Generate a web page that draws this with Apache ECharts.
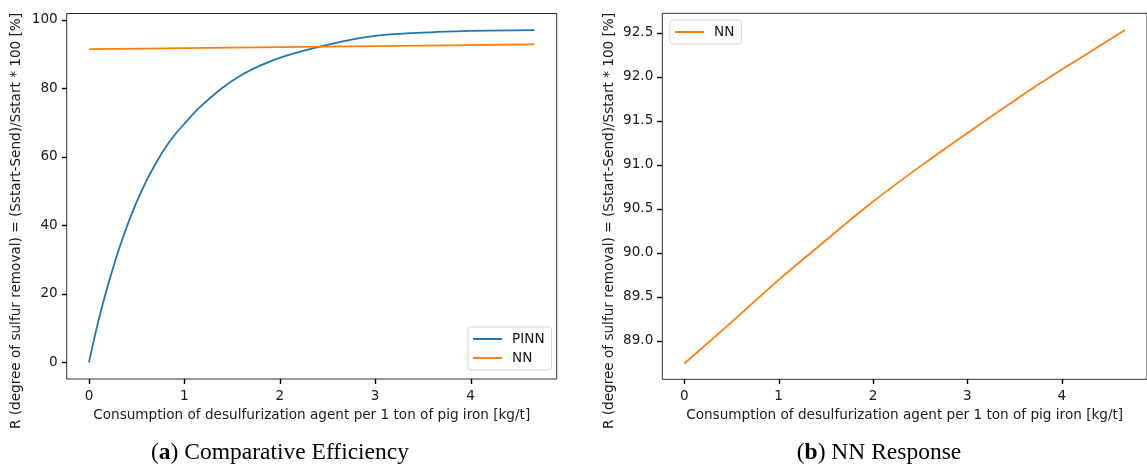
<!DOCTYPE html>
<html>
<head>
<meta charset="utf-8">
<script src="https://cdn.jsdelivr.net/npm/echarts@6/dist/echarts.min.js"></script>
<style>
  html, body { margin: 0; padding: 0; background: #fff; }
  #chart { width: 1147px; height: 468px; }
</style>
</head>
<body>
<div id="chart"></div>
<script>
// values
const pinnX = [0, 0.05, 0.1, 0.15, 0.2, 0.3, 0.4, 0.5, 0.6, 0.7, 0.8, 0.9, 1.0, 1.1, 1.2, 1.4, 1.6, 1.8, 2.0, 2.25, 2.5, 2.75, 3.0, 3.25, 3.5, 4.0, 4.67]
const pinnY = [0, 6.3, 12.2, 17.6, 22.6, 31.8, 39.8, 46.8, 52.8, 58.0, 62.6, 66.4, 69.6, 72.7, 75.4, 80.1, 83.8, 86.6, 88.8, 90.9, 92.6, 94.1, 95.2, 95.8, 96.2, 96.7, 96.9]
const nnLeftX = [0, 1, 2, 3, 4, 4.67]
const nnLeftY = [91.35, 91.65, 91.95, 92.25, 92.55, 92.75]
const nnX = [0, 0.5, 1, 1.5, 2, 2.5, 3, 3.5, 4, 4.67]
const nnY = [88.74, 89.21, 89.69, 90.14, 90.58, 90.98, 91.36, 91.73, 92.08, 92.53]

const xTicks = [0, 1, 2, 3, 4]
const yTicksLeft = [0, 20, 40, 60, 80, 100]
const yTicksRight = [89.0, 89.5, 90.0, 90.5, 91.0, 91.5, 92.0, 92.5]

const X_LABEL = 'Consumption of desulfurization agent per 1 ton of pig iron [kg/t]'
const Y_LABEL = 'R (degree of sulfur removal) = (Sstart-Send)/Sstart * 100 [%]'

const BLUE = '#1f77b4'
const ORANGE = '#ff7f0e'
const INK = '#1a1a1a'
const FONT = '"DejaVu Sans", sans-serif'
const FS = 13.6
const TICK = 5

const X_MIN = -0.2335, X_MAX = 4.9035
const Y_LEFT = [-4.85, 101.75]
const Y_RIGHT = [88.56, 92.72]

const zip = (xs, ys) => xs.map((x, i) => [x, ys[i]])

function xAxis(gridIndex) {
  return {
    type: 'value', gridIndex, min: X_MIN, max: X_MAX,
    name: X_LABEL, nameLocation: 'middle', nameGap: 29,
    nameTextStyle: { color: INK, fontSize: FS, fontFamily: FONT },
    axisLine: { show: false, onZero: false },
    axisTick: { show: false },
    axisLabel: { customValues: xTicks, color: INK, fontSize: FS, fontFamily: FONT, margin: 10 },
    splitLine: { show: false },
  }
}

function yAxis(gridIndex, ext, ticks, fmt) {
  return {
    type: 'value', gridIndex, min: ext[0], max: ext[1],
    axisLine: { show: false, onZero: false },
    axisTick: { show: false },
    axisLabel: { customValues: ticks, color: INK, fontSize: FS, fontFamily: FONT, margin: 9, formatter: fmt },
    splitLine: { show: false },
  }
}

const legendBox = {
  orient: 'vertical', icon: 'rect', itemWidth: 29, itemHeight: 2, itemGap: 5,
  padding: [5, 7, 5, 5],
  backgroundColor: '#fff', borderColor: '#d5d5d5', borderWidth: 1, borderRadius: 3,
  textStyle: { color: INK, fontSize: FS, fontFamily: FONT, padding: [0, 0, 0, 5] },
}

const chart = echarts.init(document.getElementById('chart'), null, { renderer: 'canvas' })

chart.setOption({
  animation: false,
  backgroundColor: '#fff',
  grid: [
    { left: 66.7, top: 13.5, width: 490, height: 365.5, show: true, borderColor: INK, borderWidth: 0.9, backgroundColor: 'transparent' },
    { left: 662.3, top: 13.3, width: 492.5, height: 366, show: true, borderColor: INK, borderWidth: 0.9, backgroundColor: 'transparent' },
  ],
  xAxis: [xAxis(0), xAxis(1)],
  yAxis: [
    yAxis(0, Y_LEFT, yTicksLeft, (v) => String(Math.round(v))),
    yAxis(1, Y_RIGHT, yTicksRight, (v) => v.toFixed(1)),
  ],
  legend: [
    { ...legendBox, left: 468, top: 327, data: ['PINN', 'NN'] },
    { ...legendBox, left: 670, top: 20, data: ['NN'] },
  ],
  series: [
    {
      name: 'PINN', type: 'line', xAxisIndex: 0, yAxisIndex: 0,
      data: zip(pinnX, pinnY), symbol: 'none', smooth: 0.3,
      lineStyle: { color: BLUE, width: 1.8 }, itemStyle: { color: BLUE },
    },
    {
      name: 'NN', type: 'line', xAxisIndex: 0, yAxisIndex: 0,
      data: zip(nnLeftX, nnLeftY), symbol: 'none', smooth: 0.3,
      lineStyle: { color: ORANGE, width: 1.8 }, itemStyle: { color: ORANGE },
    },
    {
      name: 'NN', type: 'line', xAxisIndex: 1, yAxisIndex: 1,
      data: zip(nnX, nnY), symbol: 'none', smooth: 0.3,
      lineStyle: { color: ORANGE, width: 1.8 }, itemStyle: { color: ORANGE },
    },
  ],
  graphic: [
    {
      type: 'text', x: 16, y: 221, rotation: Math.PI / 2,
      style: { text: Y_LABEL, fill: INK, font: FS + 'px "DejaVu Sans"', align: 'center', verticalAlign: 'middle' },
    },
    {
      type: 'text', x: 609, y: 221, rotation: Math.PI / 2,
      style: { text: Y_LABEL, fill: INK, font: FS + 'px "DejaVu Sans"', align: 'center', verticalAlign: 'middle' },
    },
    {
      type: 'text', x: 280, y: 453,
      style: {
        text: '{p|(}{b|a}{p|)} Comparative Efficiency', fill: '#000', align: 'center', verticalAlign: 'middle',
        font: '23.5px "Liberation Serif"',
        rich: { p: { font: '23.5px "Liberation Serif"' }, b: { font: 'bold 23.5px "Liberation Serif"' } },
      },
    },
    {
      type: 'text', x: 879, y: 453,
      style: {
        text: '{p|(}{b|b}{p|)} NN Response', fill: '#000', align: 'center', verticalAlign: 'middle',
        font: '23.5px "Liberation Serif"',
        rich: { p: { font: '23.5px "Liberation Serif"' }, b: { font: 'bold 23.5px "Liberation Serif"' } },
      },
    },
  ],
})

// outward tick marks, positioned through each grid's own scales
const tickMarks = []
const crisp = (v) => Math.round(v) + 0.5
function addTicks(gridIndex, yExt, yTicks) {
  xTicks.forEach((v) => {
    const [px, py] = chart.convertToPixel({ gridIndex }, [v, yExt[0]])
    const x = crisp(px)
    tickMarks.push({ type: 'line', z: 100, shape: { x1: x, y1: Math.round(py), x2: x, y2: Math.round(py) + TICK }, style: { stroke: '#000', lineWidth: 1.4 }, silent: true })
  })
  yTicks.forEach((v) => {
    const [px, py] = chart.convertToPixel({ gridIndex }, [X_MIN, v])
    const y = crisp(py)
    tickMarks.push({ type: 'line', z: 100, shape: { x1: Math.round(px) - TICK, y1: y, x2: Math.round(px), y2: y }, style: { stroke: '#000', lineWidth: 1.4 }, silent: true })
  })
}
addTicks(0, Y_LEFT, yTicksLeft)
addTicks(1, Y_RIGHT, yTicksRight)
chart.setOption({ graphic: tickMarks.map((g, i) => ({ id: 'tick' + i, ...g })) })
</script>
</body>
</html>
